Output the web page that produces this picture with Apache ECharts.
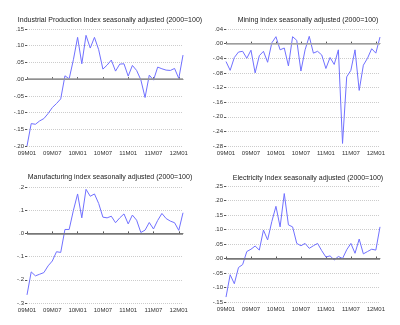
<!DOCTYPE html>
<html><head><meta charset="utf-8">
<script src="https://cdn.jsdelivr.net/npm/echarts@6/dist/echarts.min.js"></script>
<style>html,body{margin:0;padding:0;background:#fff}#c{width:400px;height:325px}</style>
</head><body><div id="c"></div>
<script>
const months = ["09M01","09M02","09M03","09M04","09M05","09M06","09M07","09M08","09M09","09M10","09M11","09M12",
"10M01","10M02","10M03","10M04","10M05","10M06","10M07","10M08","10M09","10M10","10M11","10M12",
"11M01","11M02","11M03","11M04","11M05","11M06","11M07","11M08","11M09","11M10","11M11","11M12",
"12M01","12M02"];
const titles = ["Industrial Production Index seasonally adjusted (2000=100)","Mining index seasonally adjusted (2000=100)",
"Manufacturing index seasonally adjusted (2000=100)","Electricity Index seasonally adjusted (2000=100)"];
const industrial = [-0.200,-0.133,-0.135,-0.125,-0.118,-0.103,-0.085,-0.073,-0.059,0.010,0.001,0.058,
0.125,0.046,0.131,0.093,0.125,0.088,0.030,0.042,0.057,0.024,0.045,0.046,
0.009,0.041,0.026,-0.002,-0.055,0.012,-0.003,0.036,0.031,0.027,0.026,0.032,0.002,0.072];
const mining = [-0.049,-0.073,-0.038,-0.023,-0.021,-0.040,-0.018,-0.080,-0.033,-0.021,-0.051,0.002,
0.019,-0.017,-0.012,-0.061,0.019,0.009,-0.075,-0.017,0.020,-0.026,-0.021,-0.031,
-0.068,-0.038,-0.057,-0.017,-0.273,-0.091,-0.073,-0.017,-0.128,-0.059,-0.040,-0.014,-0.026,0.018];
const manufacturing = [-0.265,-0.166,-0.183,-0.176,-0.169,-0.140,-0.119,-0.079,-0.082,0.017,0.017,0.099,
0.170,0.067,0.190,0.160,0.170,0.129,0.070,0.067,0.074,0.046,0.067,0.084,
0.041,0.079,0.057,0.004,0.014,0.047,0.019,0.056,0.086,0.064,0.053,0.046,0.013,0.089];
const electricity = [-0.133,-0.056,-0.087,-0.031,-0.021,0.024,0.032,0.043,0.029,0.098,0.064,0.127,
0.180,0.109,0.224,0.116,0.109,0.052,0.044,0.052,0.035,0.044,0.052,0.027,
0.005,0.009,-0.005,0.007,0.000,0.030,0.052,0.018,0.067,0.016,0.024,0.032,0.029,0.109];
const yMin = [-0.20,-0.28,-0.3,-0.15];
const yMax = [0.15,0.04,0.2,0.25];
const yStep = [0.05,0.04,0.1,0.05];
const yDec = [2,2,1,2];
const seriesData = [industrial, mining, manufacturing, electricity];

const grids = [
  {left:27, top:29, width:156, height:117},
  {left:226, top:29, width:154, height:117},
  {left:27, top:187, width:156, height:116},
  {left:226, top:186, width:154, height:116}
];
const titleY = [12, 12, 169, 170];
const zeroColor = ['#999','#aaa','#777','#777'];
const fontFam = 'Liberation Sans, Arial, sans-serif';

const option = {
  animation:false,
  title: titles.map((t,i)=>({text:t, left: grids[i].left + grids[i].width/2, top: titleY[i], textAlign:'center',
    textStyle:{fontSize:7, fontWeight:'normal', color:'#222', fontFamily:fontFam}})),
  grid: grids,
  xAxis: grids.map((g,i)=>({type:'category', gridIndex:i, data:months, boundaryGap:false,
    axisLine:{show:true, lineStyle:{color:'#777', width:1}},
    axisTick:{show:true, interval:5, inside:true, length:2, lineStyle:{color:'#555'}},
    axisLabel:{interval:5, fontSize:6, color:'#333', margin:4, fontFamily:fontFam},
    splitLine:{show:false}})),
  yAxis: grids.map((g,i)=>({type:'value', gridIndex:i, min:yMin[i], max:yMax[i], interval:yStep[i],
    axisLine:{show:false},
    axisTick:{show:true, length:2, lineStyle:{color:'#555'}},
    axisLabel:{fontSize:6, color:'#333', margin:3, fontFamily:fontFam,
      formatter: v => { let s = Math.abs(v) < 1e-9 ? (0).toFixed(yDec[i]) : v.toFixed(yDec[i]); return s.replace('0.', '.'); }},
    splitLine:{show:true, lineStyle:{color:'#ccc', type:[1,1], width:1}}})),
  series: seriesData.map((d,i)=>({type:'line', xAxisIndex:i, yAxisIndex:i, data:d, symbol:'none',
    lineStyle:{color:'#7070ff', width:1},
    markLine:{silent:true, symbol:'none', label:{show:false}, lineStyle:{color:zeroColor[i], type:'solid', width:1.5},
      data:[{yAxis:0}]}}))
};
const chart = echarts.init(document.getElementById('c'), null, {renderer:'canvas'});
chart.setOption(option);
</script></body></html>
